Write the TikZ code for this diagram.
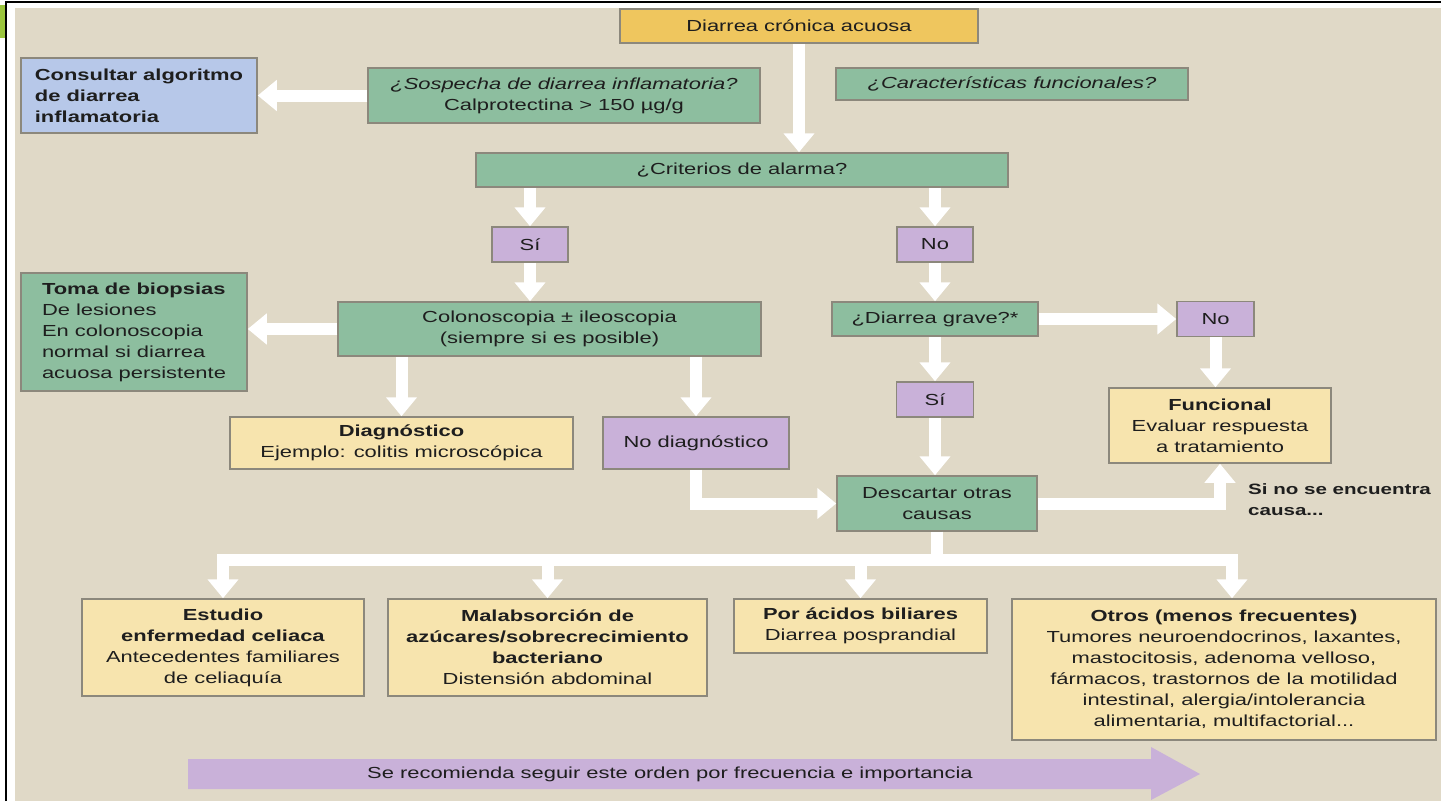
\documentclass[tikz,border=0pt]{standalone}
\usepackage{fontspec}
\setmainfont{Liberation Sans}[FakeStretch=1.37]
\usetikzlibrary{arrows.meta}

\definecolor{fondo}{HTML}{E0D9C7}
\definecolor{borde}{HTML}{8C887C}
\definecolor{tinta}{HTML}{1E1E1E}
\definecolor{verdeC}{HTML}{8DBE9F}
\definecolor{amarilloC}{HTML}{EFC65E}
\definecolor{cremaC}{HTML}{F7E4AE}
\definecolor{moradoC}{HTML}{C9B1D9}
\definecolor{azulC}{HTML}{B7C8E9}
\definecolor{lima}{HTML}{9BC53D}

\tikzset{
  caja/.style={draw=borde, line width=1.5pt, inner sep=0pt, text=tinta,
    align=center, font=\fontsize{16}{21}\selectfont},
  verde/.style={caja, fill=verdeC},
  amarillo/.style={caja, fill=amarilloC},
  crema/.style={caja, fill=cremaC},
  morado/.style={caja, fill=moradoC},
  azul/.style={caja, fill=azulC},
  flecha/.style={draw=white, line width=12pt, line join=miter,
    -{Triangle[width=30pt,length=19pt]}},
}

\begin{document}
\begin{tikzpicture}[x=1pt,y=-1pt]
   \useasboundingbox (0,0) rectangle (1441,801);
   % Marco
   \fill[white] (0,0) rectangle (1441,801);
   \fill[fondo] (15,8) rectangle (1441,801);
   \draw[black,line width=1.5pt] (6,801) -- (6,2) -- (1441,2);
   \fill[lima] (0,5) rectangle (5,38);
   % Inicio
   \node[amarillo,minimum width=358,minimum height=34] (diarrea) at (799,26) {Diarrea crónica acuosa};
   \node[azul,minimum width=236,minimum height=75,align=left] (consultar) at (139,95.5)
     {\textbf{Consultar algoritmo}\\\textbf{de diarrea}\\\textbf{inflamatoria}};
   \node[verde,minimum width=392,minimum height=55] (sospecha) at (564,95.5)
     {\textit{¿Sospecha de diarrea inflamatoria?}\\Calprotectina > 150 µg/g};
   \node[verde,minimum width=352,minimum height=32] (funcq) at (1012,84) {\textit{¿Características funcionales?}};
   \node[verde,minimum width=532,minimum height=34] (criterios) at (742,170) {¿Criterios de alarma?};
   % Rama izquierda
   \node[morado,minimum width=76,minimum height=35] (si1) at (530,244.5) {Sí};
   \node[verde,minimum width=423,minimum height=54] (colono) at (549.5,329)
     {Colonoscopia ± ileoscopia\\(siempre si es posible)};
   \node[verde,minimum width=226,minimum height=118,align=left] (toma) at (134,332)
     {\textbf{Toma de biopsias}\\De lesiones\\En colonoscopia\\normal si diarrea\\acuosa persistente};
   \node[crema,minimum width=343,minimum height=52] (diag) at (401.5,443)
     {\textbf{Diagnóstico}\\Ejemplo: colitis microscópica};
   \node[morado,minimum width=186,minimum height=52] (nodiag) at (696,443) {No diagnóstico};
   % Rama derecha
   \node[morado,minimum width=76,minimum height=35] (no1) at (935,244.5) {No};
   \node[verde,minimum width=206,minimum height=34] (grave) at (935,319) {¿Diarrea grave?*};
   \node[morado,minimum width=77,minimum height=35] (no2) at (1215.5,319) {No};
   \node[crema,minimum width=222,minimum height=75] (funcional) at (1220,425.5)
     {\textbf{Funcional}\\Evaluar respuesta\\a tratamiento};
   \node[morado,minimum width=77,minimum height=35] (si2) at (935,399.5) {Sí};
   \node[verde,minimum width=200,minimum height=55] (descartar) at (937,503.5) {Descartar otras\\causas};
   \node[anchor=west,align=left,text=tinta,inner sep=0pt,font=\fontsize{15}{21}\selectfont\bfseries]
     (nota) at (1248,500) {Si no se encuentra\\causa...};
   % Causas
   \node[crema,minimum width=282,minimum height=97] (estudio) at (223,647.5)
     {\textbf{Estudio}\\\textbf{enfermedad celiaca}\\Antecedentes familiares\\de celiaquía};
   \node[crema,minimum width=319,minimum height=97] (malab) at (547.5,647.5)
     {\textbf{Malabsorción de}\\\textbf{azúcares/sobrecrecimiento}\\\textbf{bacteriano}\\Distensión abdominal};
   \node[crema,minimum width=253,minimum height=54] (acidos) at (860.5,626)
     {\textbf{Por ácidos biliares}\\Diarrea posprandial};
   \node[crema,minimum width=424,minimum height=141] (otros) at (1224,669.5)
     {\textbf{Otros (menos frecuentes)}\\Tumores neuroendocrinos, laxantes,\\mastocitosis, adenoma velloso,\\
      fármacos, trastornos de la motilidad\\intestinal, alergia/intolerancia\\alimentaria, multifactorial...};
   % Flechas
   \draw[flecha] (diarrea.south) -- (diarrea.south |- criterios.north);
   \draw[flecha] (sospecha) -- (consultar);
   \draw[flecha] (si1.north |- criterios.south) -- (si1.north);
   \draw[flecha] (no1.north |- criterios.south) -- (no1.north);
   \draw[flecha] (si1) -- (si1 |- colono.north);
   \draw[flecha] (colono.west) -- (colono.west -| toma.east);
   \draw[flecha] (diag.north |- colono.south) -- (diag.north);
   \draw[flecha] (nodiag.north |- colono.south) -- (nodiag.north);
   \draw[flecha] (nodiag) |- (descartar);
   \draw[flecha] (no1) -- (grave);
   \draw[flecha] (grave) -- (no2);
   \draw[flecha] (no2.south) -- (no2.south |- funcional.north);
   \draw[flecha] (grave) -- (si2);
   \draw[flecha] (si2.south) -- (si2.south |- descartar.north);
   \draw[flecha] (descartar) -| (funcional);
   \coordinate (bus) at (937,560);
   \draw[flecha] (descartar) -- (bus) -| (estudio);
   \draw[flecha] (descartar) -- (bus) -| (malab);
   \draw[flecha] (descartar) -- (bus) -| (acidos);
   \draw[flecha] (descartar) -- (bus) -| ([xshift=8pt]otros.north);
   % Orden
   \fill[moradoC] (188,759) -- (1151,759) -- (1151,747) -- (1200,774) -- (1151,800) -- (1151,789) -- (188,789) -- cycle;
   \node[text=tinta,font=\fontsize{16}{21}\selectfont] (orden) at (670,774)
     {Se recomienda seguir este orden por frecuencia e importancia};
\end{tikzpicture}
\end{document}
